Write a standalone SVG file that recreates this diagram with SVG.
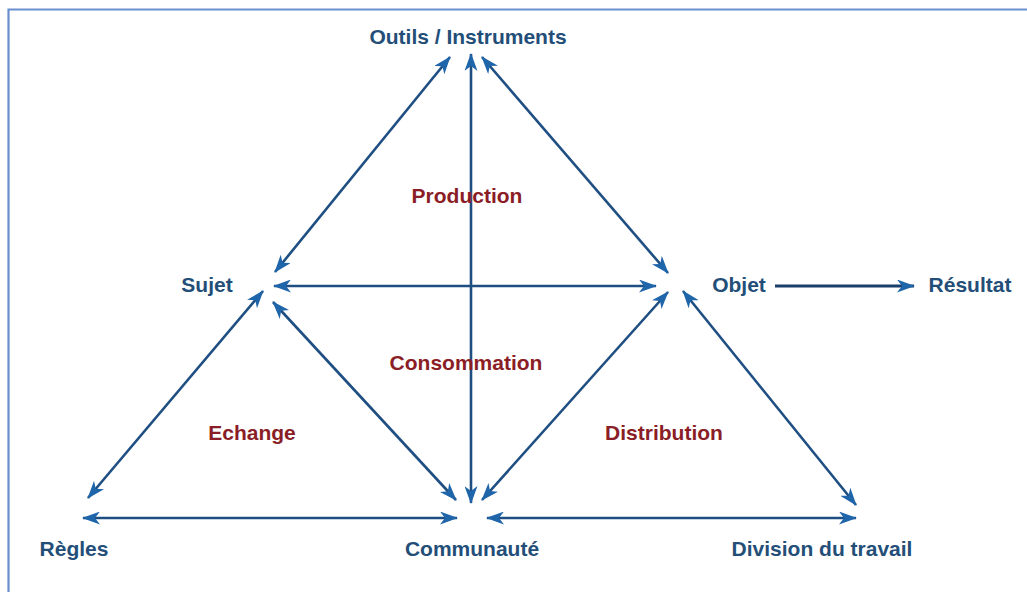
<svg xmlns="http://www.w3.org/2000/svg" width="1027" height="592" viewBox="0 0 1027 592">
<style>
.node{font-family:"Liberation Sans",Arial,sans-serif;font-weight:bold;font-size:21px;fill:#234e78;}
.act{font-family:"Liberation Sans",Arial,sans-serif;font-weight:bold;font-size:21px;fill:#8a1d26;text-anchor:middle;}
.c{stroke:#1f4f82;stroke-width:2.6;fill:none;marker-end:url(#ah);marker-start:url(#ah);}
.one{stroke:#1b3f6a;stroke-width:3;fill:none;marker-end:url(#ah);}
</style>
<defs>
<marker id="ah" viewBox="0 0 18 13" refX="17" refY="6.5" markerWidth="18" markerHeight="13" markerUnits="userSpaceOnUse" orient="auto-start-reverse">
<path d="M0,0 L18,6.5 L0,13 L5,6.5 z" fill="#1f65aa"/>
</marker>
</defs>
<rect x="0" y="0" width="1027" height="592" fill="#ffffff"/>
<path d="M8.5,592 V9.5 H1027" stroke="#6a8fcf" stroke-width="2.2" fill="none"/>
<g id="connectors">
<line class="c" x1="450" y1="57" x2="275" y2="272"/>
<line class="c" x1="471" y1="54" x2="471" y2="503"/>
<line class="c" x1="482" y1="57" x2="668" y2="273"/>
<line class="c" x1="274" y1="286" x2="656" y2="286"/>
<line class="c" x1="263" y1="291" x2="88" y2="498"/>
<line class="c" x1="273" y1="302" x2="456" y2="500"/>
<line class="c" x1="668" y1="292" x2="482" y2="500"/>
<line class="c" x1="683" y1="291" x2="856" y2="505"/>
<line class="c" x1="83" y1="518" x2="457" y2="518"/>
<line class="c" x1="487" y1="518" x2="856" y2="518"/>
<line class="one" x1="775" y1="286" x2="914" y2="286"/>
</g>
<g id="outils"><text class="node" x="468" y="44" text-anchor="middle">Outils / Instruments</text></g>
<g id="sujet"><text class="node" x="207" y="292" text-anchor="middle">Sujet</text></g>
<g id="objet"><text class="node" x="739" y="292" text-anchor="middle">Objet</text></g>
<g id="resultat"><text class="node" x="970" y="292" text-anchor="middle">Résultat</text></g>
<g id="regles"><text class="node" x="74" y="556" text-anchor="middle">Règles</text></g>
<g id="communaute"><text class="node" x="472" y="556" text-anchor="middle">Communauté</text></g>
<g id="division"><text class="node" x="822" y="556" text-anchor="middle">Division du travail</text></g>
<g id="production"><text class="act" x="467" y="203">Production</text></g>
<g id="consommation"><text class="act" x="466" y="370">Consommation</text></g>
<g id="echange"><text class="act" x="252" y="440">Echange</text></g>
<g id="distribution"><text class="act" x="664" y="440">Distribution</text></g>
</svg>
